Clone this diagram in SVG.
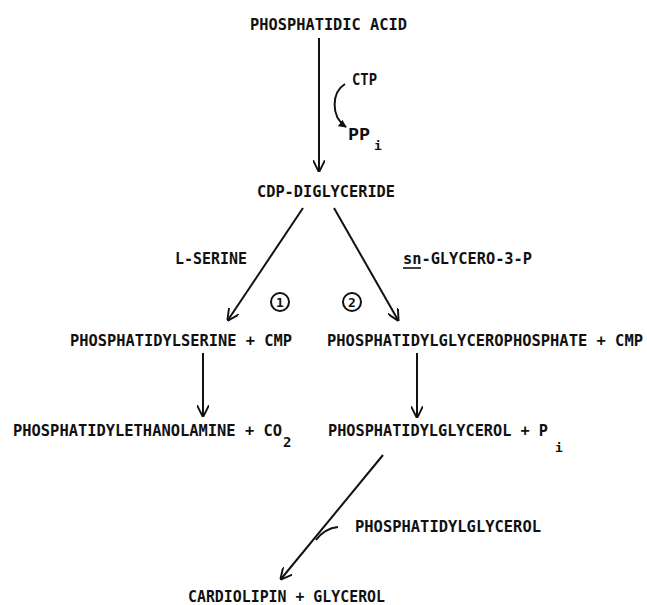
<svg xmlns="http://www.w3.org/2000/svg" width="647" height="605" viewBox="0 0 647 605">
<style>
text{font-family:"DejaVu Sans Mono","Liberation Mono",monospace;font-weight:bold;font-size:15.5px;fill:#111}
.sub{font-size:13px}
.ln{stroke:#111;stroke-width:2;fill:none}
</style>
<defs>
<marker id="ahs" viewBox="0 0 10 10" refX="9" refY="5" markerWidth="12" markerHeight="12" markerUnits="userSpaceOnUse" orient="auto">
<path d="M0,0 L10,5 L0,10" fill="none" stroke="#111" stroke-width="1.6"/>
</marker>
<marker id="ahc" viewBox="0 0 10 10" refX="9" refY="5" markerWidth="8" markerHeight="8" markerUnits="userSpaceOnUse" orient="auto">
<path d="M0,0 L10,5 L0,10 Z" fill="#111"/>
</marker>
</defs>
<rect width="647" height="605" fill="#fff"/>
<g id="connectors">
<line class="ln" x1="319" y1="38" x2="319" y2="171" marker-end="url(#ahs)"/>
<path class="ln" d="M345,84 C332,92 330,116 346,127" marker-end="url(#ahc)"/>
<line class="ln" x1="303" y1="208" x2="228" y2="320" marker-end="url(#ahs)"/>
<line class="ln" x1="334" y1="208" x2="398" y2="320" marker-end="url(#ahs)"/>
<line class="ln" x1="203" y1="353" x2="203" y2="416" marker-end="url(#ahs)"/>
<line class="ln" x1="417" y1="353" x2="417" y2="417" marker-end="url(#ahs)"/>
<line class="ln" x1="383" y1="455" x2="281" y2="579" marker-end="url(#ahs)"/>
<path class="ln" d="M338,527 C328,528 322,532 316,540"/>
</g>
<g id="phosphatidic-acid"><text x="250" y="30" textLength="157" lengthAdjust="spacingAndGlyphs">PHOSPHATIDIC ACID</text></g>
<g id="ctp"><text x="352" y="85" textLength="25" lengthAdjust="spacingAndGlyphs">CTP</text></g>
<g id="ppi"><text x="348" y="140" textLength="22" lengthAdjust="spacingAndGlyphs">PP</text><text class="sub" x="374" y="150">i</text></g>
<g id="cdp-diglyceride"><text x="257" y="197" textLength="138" lengthAdjust="spacingAndGlyphs">CDP-DIGLYCERIDE</text></g>
<g id="l-serine"><text x="175" y="264" textLength="72" lengthAdjust="spacingAndGlyphs">L-SERINE</text></g>
<g id="glycero-3-p"><text x="403" y="264" textLength="129" lengthAdjust="spacingAndGlyphs">sn-GLYCERO-3-P</text><line x1="403" y1="268" x2="421" y2="268" stroke="#111" stroke-width="1.6"/></g>
<g id="enzyme1"><circle cx="280" cy="302" r="9" fill="none" stroke="#111" stroke-width="2"/><text x="280" y="307" text-anchor="middle" style="font-size:13px">1</text></g>
<g id="enzyme2"><circle cx="352" cy="302" r="9" fill="none" stroke="#111" stroke-width="2"/><text x="352" y="307" text-anchor="middle" style="font-size:13px">2</text></g>
<g id="phosphatidylserine"><text x="70" y="346" textLength="222" lengthAdjust="spacingAndGlyphs">PHOSPHATIDYLSERINE + CMP</text></g>
<g id="phosphatidylglycerophosphate"><text x="327" y="346" textLength="316" lengthAdjust="spacingAndGlyphs">PHOSPHATIDYLGLYCEROPHOSPHATE + CMP</text></g>
<g id="phosphatidylethanolamine"><text x="13" y="436" textLength="269" lengthAdjust="spacingAndGlyphs">PHOSPHATIDYLETHANOLAMINE + CO</text><text class="sub" x="283" y="447" style="font-size:14px">2</text></g>
<g id="phosphatidylglycerol"><text x="328" y="436" textLength="220" lengthAdjust="spacingAndGlyphs">PHOSPHATIDYLGLYCEROL + P</text><text class="sub" x="555" y="452">i</text></g>
<g id="phosphatidylglycerol-2"><text x="355" y="532" textLength="186" lengthAdjust="spacingAndGlyphs">PHOSPHATIDYLGLYCEROL</text></g>
<g id="cardiolipin"><text x="188" y="602" textLength="197" lengthAdjust="spacingAndGlyphs">CARDIOLIPIN + GLYCEROL</text></g>
</svg>
